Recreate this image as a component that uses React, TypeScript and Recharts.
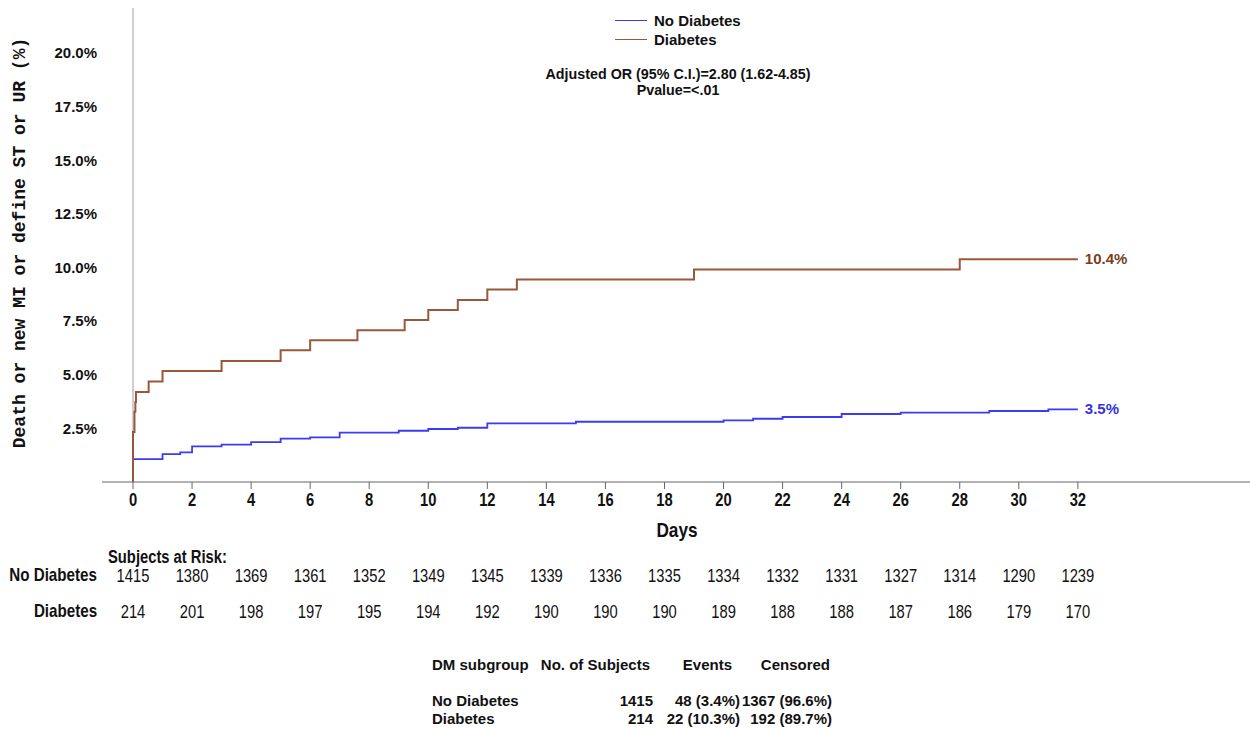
import React from 'react';
import { LineChart, Line, XAxis, YAxis, ReferenceLine, Legend } from 'recharts';

// Kaplan-Meier style cumulative event rate (%), step points
const noDiabetesDays = [0, 0, 1, 1.6, 2, 3, 4, 5, 6, 7, 9, 10, 11, 12, 15, 20, 21, 22, 24, 26, 29, 31, 32];
const noDiabetesRate = [0, 1.07, 1.3, 1.38, 1.66, 1.74, 1.86, 2.02, 2.08, 2.3, 2.39, 2.47, 2.53, 2.73, 2.81, 2.87, 2.95, 3.03, 3.17, 3.23, 3.31, 3.39, 3.39];

const diabetesDays = [0, 0, 0.05, 0.08, 0.1, 0.53, 1, 3, 5, 6, 7.6, 9.2, 10, 11, 12, 13, 19, 28, 32];
const diabetesRate = [0, 2.33, 3.27, 3.73, 4.2, 4.68, 5.17, 5.64, 6.14, 6.61, 7.07, 7.55, 8.02, 8.49, 8.97, 9.44, 9.91, 10.38, 10.38];

const riskDays = [0, 2, 4, 6, 8, 10, 12, 14, 16, 18, 20, 22, 24, 26, 28, 30, 32];
const noDiabetesAtRisk = [1415, 1380, 1369, 1361, 1352, 1349, 1345, 1339, 1336, 1335, 1334, 1332, 1331, 1327, 1314, 1290, 1239];
const diabetesAtRisk = [214, 201, 198, 197, 195, 194, 192, 190, 190, 190, 189, 188, 188, 187, 186, 179, 170];

const yTicks = [2.5, 5, 7.5, 10, 12.5, 15, 17.5, 20];
const endLabelNoDiabetes = '3.5%';
const endLabelDiabetes = '10.4%';
const legendOrder = ['No Diabetes', 'Diabetes'];

const summaryRows = [
  { group: 'No Diabetes', subjects: '1415', events: '48 (3.4%)', censored: '1367 (96.6%)' },
  { group: 'Diabetes', subjects: '214', events: '22 (10.3%)', censored: '192 (89.7%)' },
];

const BLUE = '#3b3bf2';
const BROWN = '#99583a';
const SANS = "'Liberation Sans', Arial, sans-serif";
const NARROW_X = 0.82; // no Arial Narrow installed, squeeze Liberation Sans instead

const noDiabetesData = noDiabetesDays.map((d, i) => ({ day: d, rate: noDiabetesRate[i] }));
const diabetesData = diabetesDays.map((d, i) => ({ day: d, rate: diabetesRate[i] }));

const RiskTick = (props: any) => {
  const { x, y, payload } = props;
  const i = riskDays.indexOf(payload.value);
  const sq = (dy: number) => `translate(${x} ${y + dy}) scale(${NARROW_X} 1)`;
  return (
    <g fill="#111" style={{ fontFamily: SANS }}>
      <text transform={sq(15)} textAnchor="middle" fontSize={18} fontWeight="bold">
        {payload.value}
      </text>
      <text transform={sq(91)} textAnchor="middle" fontSize={18}>
        {noDiabetesAtRisk[i]}
      </text>
      <text transform={sq(127)} textAnchor="middle" fontSize={18}>
        {diabetesAtRisk[i]}
      </text>
    </g>
  );
};

const endLabel = (lastIndex: number, text: string, color: string) => (p: any) => {
  if (p.index !== lastIndex) return <g key={p.index} />;
  return (
    <text key={p.index} x={p.x + 7} y={p.y + 5} fill={color} style={{ fontFamily: SANS, fontSize: 15, fontWeight: 'bold' }}>
      {text}
    </text>
  );
};

const LegendContent = (props: any) => {
  const items = [...(props.payload || [])].sort(
    (a: any, b: any) => legendOrder.indexOf(a.value) - legendOrder.indexOf(b.value)
  );
  return (
    <div>
      {items.map((item: any) => (
        <div key={item.value} style={{ display: 'flex', alignItems: 'center', height: 19 }}>
          <span style={{ display: 'inline-block', width: 32, height: 0, borderTop: `1.5px solid ${item.color}`, marginRight: 7 }} />
          <span style={{ fontFamily: SANS, fontSize: 15, fontWeight: 'bold', color: '#111' }}>{item.value}</span>
        </div>
      ))}
    </div>
  );
};

const abs = (extra: React.CSSProperties): React.CSSProperties => ({ position: 'absolute', whiteSpace: 'nowrap', ...extra });

export default function App() {
  return (
    <div style={{ position: 'absolute', left: 0, top: 0, width: 1250, height: 729, background: '#fff', fontFamily: SANS, color: '#111' }}>
      <LineChart width={1250} height={729} margin={{ top: 8, right: 0, bottom: 0, left: 0 }}>
        <XAxis
          dataKey="day"
          type="number"
          domain={[-1.05, 37.83]}
          ticks={riskDays}
          height={247}
          tick={<RiskTick />}
          tickSize={7}
          tickMargin={2}
          stroke="#666"
          interval={0}
          allowDataOverflow
        />
        <YAxis
          type="number"
          domain={[0, 22.1]}
          ticks={yTicks}
          width={102}
          axisLine={false}
          tickLine={false}
          tickSize={0}
          tickMargin={5}
          tickFormatter={(v: number) => `${v.toFixed(1)}%`}
          tick={{ fill: '#111', fontSize: 15, fontWeight: 'bold', fontFamily: SANS }}
          allowDataOverflow
        />
        <ReferenceLine x={0} stroke="#cfcfcf" strokeWidth={2} />
        <Legend
          layout="vertical"
          align="center"
          verticalAlign="middle"
          content={<LegendContent />}
          wrapperStyle={{ top: 11, left: 615, width: 'auto' }}
        />
        <Line
          data={noDiabetesData}
          dataKey="rate"
          name="No Diabetes"
          type="stepAfter"
          stroke={BLUE}
          strokeWidth={1.8}
          dot={false}
          isAnimationActive={false}
          label={endLabel(noDiabetesData.length - 1, endLabelNoDiabetes, '#3232e0')}
        />
        <Line
          data={diabetesData}
          dataKey="rate"
          name="Diabetes"
          type="stepAfter"
          stroke={BROWN}
          strokeWidth={2}
          dot={false}
          isAnimationActive={false}
          label={endLabel(diabetesData.length - 1, endLabelDiabetes, '#7a3e1c')}
        />
      </LineChart>

      <div style={abs({ left: 20, top: 243, transform: 'translate(-50%, -50%) rotate(-90deg)', fontFamily: "'Liberation Mono', monospace", fontSize: 18, fontWeight: 'bold' })}>
        Death or new MI or define ST or UR (%)
      </div>

      <div style={abs({ left: 678, top: 66, transform: 'translateX(-50%)', textAlign: 'center', fontSize: 14.3, fontWeight: 'bold', lineHeight: '16px' })}>
        Adjusted OR (95% C.I.)=2.80 (1.62-4.85)
        <br />
        Pvalue=&lt;.01
      </div>

      <div style={abs({ left: 677, top: 530, transform: `translate(-50%, -50%) scaleX(${NARROW_X})`, fontSize: 21, fontWeight: 'bold' })}>
        Days
      </div>

      <div style={abs({ left: 108, top: 557, transformOrigin: 'left center', transform: `translateY(-50%) scaleX(${NARROW_X})`, fontSize: 18, fontWeight: 'bold' })}>
        Subjects at Risk:
      </div>
      <div style={abs({ right: 1250 - 97, top: 575, transformOrigin: 'right center', transform: `translateY(-50%) scaleX(${NARROW_X})`, fontSize: 18.5, fontWeight: 'bold' })}>
        No Diabetes
      </div>
      <div style={abs({ right: 1250 - 97, top: 611, transformOrigin: 'right center', transform: `translateY(-50%) scaleX(${NARROW_X})`, fontSize: 18.5, fontWeight: 'bold' })}>
        Diabetes
      </div>

      <div style={abs({ left: 432, top: 664, transform: 'translateY(-50%)', fontSize: 15, fontWeight: 'bold' })}>DM subgroup</div>
      <div style={abs({ right: 1250 - 650, top: 664, transform: 'translateY(-50%)', fontSize: 15, fontWeight: 'bold' })}>No. of Subjects</div>
      <div style={abs({ right: 1250 - 732, top: 664, transform: 'translateY(-50%)', fontSize: 15, fontWeight: 'bold' })}>Events</div>
      <div style={abs({ right: 1250 - 830, top: 664, transform: 'translateY(-50%)', fontSize: 15, fontWeight: 'bold' })}>Censored</div>
      {summaryRows.map((r, i) => {
        const top = 700 + i * 18;
        const s = { top, transform: 'translateY(-50%)', fontSize: 15, fontWeight: 'bold' } as React.CSSProperties;
        return (
          <React.Fragment key={r.group}>
            <div style={abs({ ...s, left: 432 })}>{r.group}</div>
            <div style={abs({ ...s, right: 1250 - 653 })}>{r.subjects}</div>
            <div style={abs({ ...s, right: 1250 - 740 })}>{r.events}</div>
            <div style={abs({ ...s, right: 1250 - 832 })}>{r.censored}</div>
          </React.Fragment>
        );
      })}
    </div>
  );
}
